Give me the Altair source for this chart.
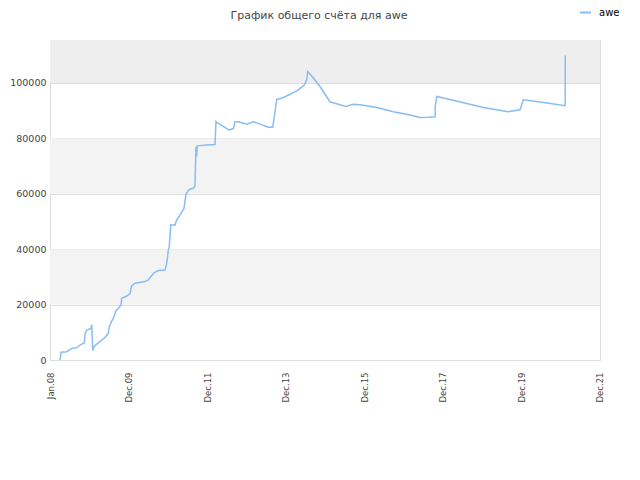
import altair as alt
import pandas as pd

series_name = "awe"

dates = [
    "2008-04-03", "2008-04-13", "2008-06-05", "2008-07-21", "2008-09-06", "2008-10-06", "2008-11-15", "2008-11-22", "2008-12-08",
    "2009-01-17", "2009-01-23", "2009-02-01", "2009-02-16", "2009-03-25", "2009-04-26", "2009-05-27", "2009-06-26", "2009-07-05",
    "2009-07-21", "2009-08-11", "2009-09-06", "2009-09-27", "2009-10-22", "2009-10-28", "2009-12-14",
    "2010-01-14", "2010-01-29", "2010-03-01", "2010-06-02", "2010-07-03", "2010-07-18", "2010-08-25", "2010-10-04", "2010-12-05", "2010-12-21",
    "2011-01-05", "2011-01-14", "2011-01-27", "2011-03-08", "2011-03-23", "2011-04-23", "2011-05-31", "2011-06-18", "2011-07-19",
    "2011-08-25", "2011-09-10", "2011-09-19", "2011-09-25", "2011-10-01", "2011-12-28",
    "2012-03-14", "2012-03-23", "2012-04-14", "2012-07-25", "2012-09-01", "2012-09-16", "2012-10-17",
    "2013-01-03", "2013-03-05", "2013-04-20", "2013-07-22", "2013-09-02", "2013-09-14", "2013-10-09", "2013-11-25",
    "2014-02-10", "2014-04-28", "2014-06-23", "2014-07-15", "2014-07-24", "2014-08-30", "2014-11-15",
    "2015-02-16", "2015-05-19", "2015-07-14", "2015-09-20", "2015-11-21",
    "2016-04-26", "2016-09-27",
    "2017-03-01", "2017-06-02", "2017-08-18", "2017-10-20", "2017-10-21", "2017-11-04",
    "2018-05-24",
    "2019-01-11", "2019-08-31", "2019-12-18",
    "2020-01-03", "2020-01-18", "2020-06-23",
    "2021-02-10", "2021-02-11",
]

scores = [
    0, 2800, 3000, 4200, 4400, 5400, 6200, 9600, 10800,
    11400, 12800, 3400, 5000, 6200, 7200, 8200, 9600, 12000, 13500, 15000, 17800, 18600, 19900, 22300, 23100,
    24000, 26700, 27700, 28300, 28900, 29700, 31500, 32300, 32500, 34900,
    39700, 40900, 48700, 48700, 50500, 52300, 54800, 59900, 61600, 62000, 62800, 77000, 73500, 77300, 77600,
    77800, 86000, 85400, 83000, 83600, 86000, 86000,
    85100, 86000, 85400, 84000, 84000, 87200, 94100, 94500,
    95900, 97500, 99300, 101100, 104100, 102500, 98700,
    93200, 92100, 91500, 92300, 92100,
    91100, 89600,
    88400, 87500, 87600, 87800, 91500, 95100,
    93300,
    91100, 89600, 90300,
    92100, 93900, 93100,
    91800, 109900,
]

x_tick_dates = ["2008-01-01", "2009-12-31", "2011-12-31", "2013-12-30",
                "2015-12-31", "2017-12-30", "2019-12-31", "2021-12-30"]
y_ticks = [0, 20000, 40000, 60000, 80000, 100000]
y_max = 115500
x_domain = ["2008-01-01", "2021-12-31"]

band_lo_start = [20000, 60000]
band_lo_end = [40000, 80000]
band_top_start = [100000]
band_top_end = [y_max]

df = pd.DataFrame({"date": dates, "score": scores, "series": series_name})
bands_lo = pd.DataFrame({"y0": band_lo_start, "y1": band_lo_end})
bands_top = pd.DataFrame({"y0": band_top_start, "y1": band_top_end})

yscale = alt.Scale(domain=[0, y_max], nice=False, zero=True)
xscale = alt.Scale(domain=x_domain, nice=False)

band1 = alt.Chart(bands_lo).mark_rect(color="#f3f3f3").encode(
    x=alt.value(0), x2=alt.value(550),
    y=alt.Y("y0:Q", scale=yscale), y2="y1:Q",
)
band2 = alt.Chart(bands_top).mark_rect(color="#eeeeee").encode(
    x=alt.value(0), x2=alt.value(550),
    y=alt.Y("y0:Q", scale=yscale), y2="y1:Q",
)

line = alt.Chart(df).mark_line(strokeWidth=1.5).encode(
    x=alt.X("date:T", scale=xscale,
            axis=alt.Axis(values=x_tick_dates, format="%b.%y", labelAngle=270,
                          title=None, ticks=False, domain=False, grid=False,
                          labelPadding=12, labelFontSize=8.5, labelColor="#444",
                          labelFont="DejaVu Sans", labelOverlap=False)),
    y=alt.Y("score:Q", scale=yscale,
            axis=alt.Axis(values=y_ticks, title=None, ticks=False, domain=False,
                          labelPadding=4, labelFontSize=9.5, labelColor="#444",
                          labelFont="DejaVu Sans", gridColor="#dddddd", format="d")),
    color=alt.Color("series:N", scale=alt.Scale(range=["#88bdf2"]),
                    legend=alt.Legend(title=None, orient="none", legendX=529, legendY=-34,
                                      symbolType="stroke", symbolStrokeWidth=2, symbolSize=120,
                                      labelOffset=7,
                                      labelFontSize=10, labelFont="DejaVu Sans", labelColor="#000",
                                      padding=0)),
)

chart = alt.layer(band1, band2, line).properties(
    width=550, height=320,
    title=alt.TitleParams("График общего счёта для awe", fontSize=11, font="DejaVu Sans",
                          fontWeight="normal", color="#444", anchor="middle", dx=-6,
                          offset=-15),
    autosize=alt.AutoSizeParams(type="none"),
    padding={"left": 42, "top": 32, "right": 32, "bottom": 100},
).configure_view(stroke="#dddddd")

chart.save("out.html", embed_options={"renderer": "svg", "actions": False})
